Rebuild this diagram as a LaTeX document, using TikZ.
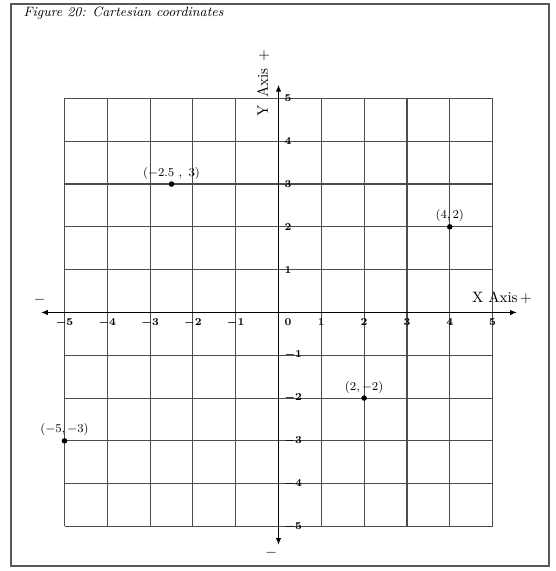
\documentclass[tikz,border=0pt]{standalone}
\usepackage{amsmath}
\usetikzlibrary{arrows.meta}

\begin{document}
\begin{tikzpicture}[font=\footnotesize,
    gridln/.style={draw=black!70,line width=0.75pt},
    axisln/.style={{Latex[length=1.6mm,width=1.3mm]}-{Latex[length=1.6mm,width=1.3mm]},line width=0.9pt},
    pt/.style={circle,fill=black,inner sep=0pt,minimum size=1.3mm},
    tick/.style={font=\scriptsize\bfseries,inner sep=1pt},
    axlab/.style={font=\normalsize,inner sep=1pt}]
    \useasboundingbox (-6.507,-6.04) rectangle (6.46,7.30);
    % frame and title
    \draw[black!65,line width=1.4pt] (-6.25,-5.92) rectangle (6.32,7.21);
    \node[anchor=west,font=\small\itshape] (title) at (-6.08,7.0) {Figure 20: Cartesian coordinates};
    % grid
    \draw[gridln] (-5,-5) grid (5,5);
    % axes
    \coordinate (xl) at (-5.55,0);
    \coordinate (xr) at (5.57,0);
    \coordinate (yt) at (0,5.32);
    \coordinate (yb) at (0,-5.43);
    \draw[axisln] (xl) -- (xr);
    \draw[axisln] (yb) -- (yt);
    \node[axlab] (xlab) at (5.22,0.34) {X Axis\,+};
    \node[axlab,rotate=90] (ylab) at (-0.36,5.36) {Y\enspace Axis\enspace+};
    \node[axlab] (xneg) at (-5.58,0.3) {$-$};
    \node[axlab] (yneg) at (-0.17,-5.62) {$-$};
    % tick labels
    \foreach \i in {-5,...,-1,1,2,...,5}
      \node[tick,anchor=north] (tx\i) at (\i,-0.1) {$\boldsymbol{\i}$};
    \node[tick,anchor=north west] (t0) at (0.1,-0.1) {$\boldsymbol{0}$};
    \foreach \i in {-5,...,-1,1,2,...,5}
      \node[tick,anchor=west] (ty\i) at (0.1,\i) {$\boldsymbol{\i}$};
    % points
    \node[pt,label={[inner sep=1pt]above:$(-2.5\ ,\ 3)$}] (pa) at (-2.5,3) {};
    \node[pt,label={[inner sep=1pt]above:$(4,2)$}] (pb) at (4,2) {};
    \node[pt,label={[inner sep=1pt]above:$(2,-2)$}] (pc) at (2,-2) {};
    \node[pt,label={[inner sep=1pt]above:$(-5,-3)$}] (pd) at (-5,-3) {};
\end{tikzpicture}
\end{document}
